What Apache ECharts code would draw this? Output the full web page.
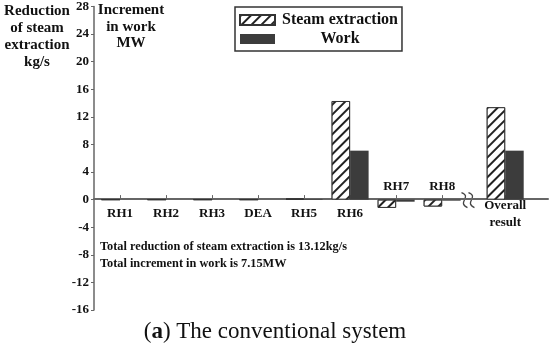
<!DOCTYPE html>
<html style="height: 100%">
<head>
  <meta charset="utf-8">
  <title>Steam extraction / work</title>
  <style type="text/css">
    body { margin: 0; background: #fff; }
    #container { width: 550px; height: 347px; }
  </style>
</head>
<body>
  <div id="container"></div>
  <script type="text/javascript" src="https://cdn.jsdelivr.net/npm/echarts@6/dist/echarts.min.js"></script>
  <script type="text/javascript">
    // data
    var categories = ['RH1', 'RH2', 'RH3', 'DEA', 'RH5', 'RH6', 'RH7', 'RH8', 'Overall\nresult'];
    var catPos = [1, 2, 3, 4, 5, 6, 7, 8, 9.37];
    var steamValues = [0, 0, 0, 0, 0.15, 14.3, -1.2, -1.0, 13.4];
    var workValues = [0, 0, 0, 0, 0.1, 7.1, -0.3, -0.15, 7.1];
    var breakPos = 8.55;
    var yMin = -16, yMax = 28, yStep = 4;

    var FONT = 'Liberation Serif';
    var INK = '#111';

    var gridTop = 5, gridBottom = 37, H = 347;
    // lift the x axis from the grid bottom up to y = 0
    var zeroOffset = -(H - gridTop - gridBottom) * (0 - yMin) / (yMax - yMin);

    function nameAt(v) {
      var best = 0;
      for (var i = 0; i < catPos.length; i++) {
        if (Math.abs(catPos[i] - v) < Math.abs(catPos[best] - v)) best = i;
      }
      return categories[best];
    }

    var lowerPos = [], upperPos = [];
    catPos.forEach(function (p, i) {
      (steamValues[i] < 0 ? upperPos : lowerPos).push(p);
    });

    var dom = document.getElementById('container');
    var chart = echarts.init(dom, null, { renderer: 'canvas' });

    var labelStyle = { color: INK, fontFamily: FONT, fontWeight: 'bold', fontSize: 13 };

    var option = {
      animation: false,
      grid: { left: 94, right: 2, top: gridTop, bottom: gridBottom },
      legend: {
        left: 235, top: 7,
        orient: 'vertical',
        data: ['Steam extraction', 'Work'],
        icon: 'rect',
        itemWidth: 35, itemHeight: 10, itemGap: 3,
        padding: [5, 4, 4, 4],
        borderColor: '#333', borderWidth: 1.5,
        formatter: '{c|{name}}',
        textStyle: {
          color: INK, fontFamily: FONT, fontWeight: 'bold', fontSize: 16,
          rich: { c: { width: 116, align: 'center', padding: [0, 0, 0, 2], fontFamily: FONT, fontWeight: 'bold', fontSize: 16, color: INK } }
        }
      },
      xAxis: [{
        type: 'value', min: 0.435, max: 10.3, position: 'bottom', offset: zeroOffset,
        splitLine: { show: false },
        axisLine: { onZero: false, lineStyle: { color: '#666', width: 2 } },
        axisTick: { inside: true, length: 4, customValues: catPos, lineStyle: { color: '#666' } },
        axisLabel: Object.assign({ customValues: lowerPos, margin: 15, verticalAlign: 'middle', lineHeight: 17, formatter: nameAt }, labelStyle)
      }, {
        type: 'value', min: 0.435, max: 10.3, position: 'bottom', offset: zeroOffset,
        splitLine: { show: false },
        axisLine: { show: false, onZero: false },
        axisTick: { show: false },
        axisLabel: Object.assign({ inside: true, customValues: upperPos, margin: 12, verticalAlign: 'middle', formatter: nameAt }, labelStyle)
      }],
      yAxis: {
        type: 'value', min: yMin, max: yMax, interval: yStep,
        splitLine: { show: false },
        axisLine: { show: true, onZero: false, lineStyle: { color: '#666', width: 1.5 } },
        axisTick: { show: true, inside: false, length: 3, lineStyle: { color: '#666' } },
        axisLabel: Object.assign({ margin: 5 }, labelStyle)
      },
      series: [{
        name: 'Steam extraction',
        type: 'bar',
        barWidth: 18.5,
        barGap: '0%',
        itemStyle: {
          color: '#fff', borderColor: '#333', borderWidth: 1,
          decal: {
            symbol: 'rect', symbolSize: 1,
            dashArrayX: [1, 0], dashArrayY: [1.5, 4.5],
            rotation: -Math.PI / 4,
            color: '#222', backgroundColor: '#fff'
          }
        },
        data: catPos.map(function (p, i) { return [p, steamValues[i]]; })
      }, {
        name: 'Work',
        type: 'bar',
        barWidth: 18.5,
        barGap: '0%',
        itemStyle: { color: '#3c3c3c' },
        data: catPos.map(function (p, i) { return [p, workValues[i]]; })
      }],
      graphic: [{
        type: 'text', x: 37, y: 3,
        style: { text: 'Reduction\nof steam\nextraction\nkg/s', align: 'center', fill: INK, font: 'bold 15px "' + FONT + '"', lineHeight: 17 }
      }, {
        type: 'text', x: 131, y: 2,
        style: { text: 'Increment\nin work\nMW', align: 'center', fill: INK, font: 'bold 15px "' + FONT + '"', lineHeight: 16.5 }
      }, {
        type: 'text', x: 100, y: 238,
        style: { text: 'Total reduction of steam extraction is 13.12kg/s\nTotal increment in work is 7.15MW', fill: INK, font: 'bold 12.3px "' + FONT + '"', lineHeight: 17 }
      }, {
        type: 'text', x: 275, y: 332,
        style: {
          text: '({b|a}) The conventional system', align: 'center', verticalAlign: 'middle',
          fill: '#111', font: '23px "' + FONT + '"',
          rich: { b: { fontWeight: 'bold', fontSize: 23, fontFamily: FONT } }
        }
      }]
    };

    chart.setOption(option);

    // axis break marks between RH8 and overall result
    var bp = chart.convertToPixel({ xAxisIndex: 0, yAxisIndex: 0 }, [breakPos, 0]);
    function squiggle(id, x0, y0) {
      return {
        id: id, type: 'bezierCurve',
        shape: { x1: x0 - 3, y1: y0 - 7, cpx1: x0 + 8, cpy1: y0 - 3, cpx2: x0 - 8, cpy2: y0 + 3, x2: x0 + 3, y2: y0 + 8 },
        style: { fill: null, stroke: '#444', lineWidth: 1.3 }
      };
    }
    chart.setOption({
      graphic: [squiggle('brk1', bp[0] - 3, bp[1]), squiggle('brk2', bp[0] + 4, bp[1])]
    });
  </script>
</body>
</html>
